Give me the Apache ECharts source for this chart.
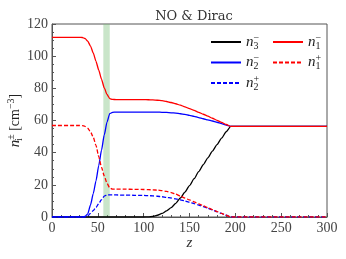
<!DOCTYPE html>
<html><head><meta charset="utf-8">
<script src="https://cdn.jsdelivr.net/npm/echarts@6/dist/echarts.min.js"></script>
<style>html,body{margin:0;padding:0;background:#fff}#c{width:346px;height:259px}</style>
</head><body><div id="c"></div>
<script>
const z   = [0,30,33,36,39,42,45,48,51,54,57,60,63,66,70,80,90,100,105,110,115,120,125,130,135,140,145,150,155,160,165,170,175,180,185,190,195,300];
const n1m = [111.7,111.7,111.6,111,109.3,106.3,102,96.8,91.3,85.7,80.3,76.2,73.6,73.1,73,73,73,73,72.9,72.8,72.6,72.3,71.8,71.2,70.4,69.5,68.5,67.4,66.3,65.1,63.9,62.7,61.4,60.1,58.8,57.5,56.3,56.3];
const n1p = [56.9,56.9,56.8,56.4,55.2,53,49.6,44.5,37.5,31,25.5,21,18,17.3,17.3,17.3,17.2,17.1,17,16.9,16.7,16.4,15.9,15.2,14.2,13,11.8,10.6,9.4,8.2,7,5.8,4.6,3.4,2.2,1.1,0,0];
const n2m = [0,0,0,0.3,2,7.5,14.5,22.5,32,41.5,51,59,64.3,65.1,65.2,65.2,65.2,65.2,65.2,65.2,65.2,65.1,65,64.8,64.6,64.2,63.8,63.2,62.6,61.8,61.1,60.4,59.7,58.9,58.1,57.2,56.3,56.3];
const n2p = [0,0,0,0,0.8,2.2,4,6,8.3,10.8,13,13.7,13.7,13.7,13.7,13.6,13.5,13.4,13.3,13.1,12.9,12.6,12.2,11.8,11.3,10.7,10,9.2,8.3,7.4,6.4,5.4,4.4,3.3,2.2,1.1,0,0];
const n3m = [0,0,0,0,0,0,0,0,0,0,0,0,0,0,0,0,0,0,0.1,0.4,1.1,2.2,3.8,5.8,8.5,11.8,15.5,19.5,23.8,28.2,32.5,36.8,41,45,49,53,56.3,56.3];
const band   = [56, 63];
const xTicks = {min:0, max:300, step:50};
const yTicks = {min:0, max:120, step:20};
const names  = ['n3-','n2-','n2+','n1-','n1+'];
const labels = {'n3-':['3','−'],'n2-':['2','−'],'n2+':['2','+'],'n1-':['1','−'],'n1+':['1','+']};

const serif = '"Liberation Serif", "DejaVu Serif", serif';
const rich = {
  i:{fontFamily:serif, fontStyle:'italic', fontSize:15, color:'#222', lineHeight:18, verticalAlign:'middle'},
  sub:{fontFamily:serif, fontSize:10, color:'#222', lineHeight:18, verticalAlign:'bottom', width:0},
  sup:{fontFamily:serif, fontSize:10, color:'#222', lineHeight:18, verticalAlign:'top'},
  t:{fontFamily:serif, fontSize:14, color:'#222', lineHeight:18, verticalAlign:'middle'}
};
function pair(arr){ return z.map((v,k)=>[v,arr[k]]); }
function mk(name, data, color, type, extra){
  return Object.assign({name, type:'line', data:pair(data), showSymbol:false, symbol:'none',
    smooth:0.2, smoothMonotone:'x', lineStyle:{color, width:1.3, type: type==='dashed'?[4,2]:'solid'},
    itemStyle:{color}, animation:false}, extra||{});
}
const legendBase = {orient:'vertical', itemWidth:30, itemHeight:10, itemGap:2.5,
  itemStyle:{opacity:0},
  formatter:n=>'{i|n}{sub|'+labels[n][0]+'}{sup|'+labels[n][1]+'}', textStyle:{rich}};
const chart = echarts.init(document.getElementById('c'), null, {renderer:'canvas'});
chart.setOption({
  animation:false,
  title:{text:'NO & Dirac', left:189, top:5, textAlign:'center',
    textStyle:{fontFamily:'"DejaVu Serif", serif', fontSize:13, fontWeight:'normal', color:'#333'}},
  grid:{left:52, right:19, top:24, bottom:42, show:true, borderColor:'#555', borderWidth:1,
    outerBoundsMode:'none', containLabel:false},
  legend:[
    Object.assign({data:names.slice(0,3), left:205, top:28}, legendBase),
    Object.assign({data:names.slice(3), left:267, top:28}, legendBase)
  ],
  xAxis:{type:'value', min:xTicks.min, max:xTicks.max, interval:xTicks.step,
    name:'{i|z}', nameLocation:'middle', nameGap:19, nameMoveOverlap:false,
    nameTextStyle:{rich:{i:{fontFamily:serif,fontStyle:'italic',fontSize:15,color:'#333'}}},
    axisLine:{lineStyle:{color:'#555'}}, axisTick:{inside:true, length:4, lineStyle:{color:'#555'}},
    minorTick:{show:true, splitNumber:5, length:2, lineStyle:{color:'#555'}},
    axisLabel:{fontFamily:serif, fontSize:14, color:'#444', margin:4}, splitLine:{show:false}},
  yAxis:{type:'value', min:yTicks.min, max:yTicks.max, interval:yTicks.step,
    name:'{i|n}{sub|i}{sup|±} {t|[cm}{sup|−3}{t|]}', nameLocation:'middle', nameGap:28, nameRotate:90,
    nameMoveOverlap:false, nameTextStyle:{rich},
    axisLine:{lineStyle:{color:'#555'}}, axisTick:{inside:true, length:4, lineStyle:{color:'#555'}},
    minorTick:{show:true, splitNumber:4, length:2, lineStyle:{color:'#555'}},
    axisLabel:{fontFamily:serif, fontSize:14, color:'#444', margin:4}, splitLine:{show:false}},
  series:[
    mk('n3-', n3m, '#000000', 'solid', {markArea:{silent:true, itemStyle:{color:'rgba(120,190,120,0.4)'},
      data:[[{xAxis:band[0]},{xAxis:band[1]}]]}}),
    mk('n2-', n2m, '#0000ff', 'solid'),
    mk('n2+', n2p, '#0000ff', 'dashed'),
    mk('n1-', n1m, '#ff0000', 'solid'),
    mk('n1+', n1p, '#ff0000', 'dashed')
  ]
});
</script></body></html>
